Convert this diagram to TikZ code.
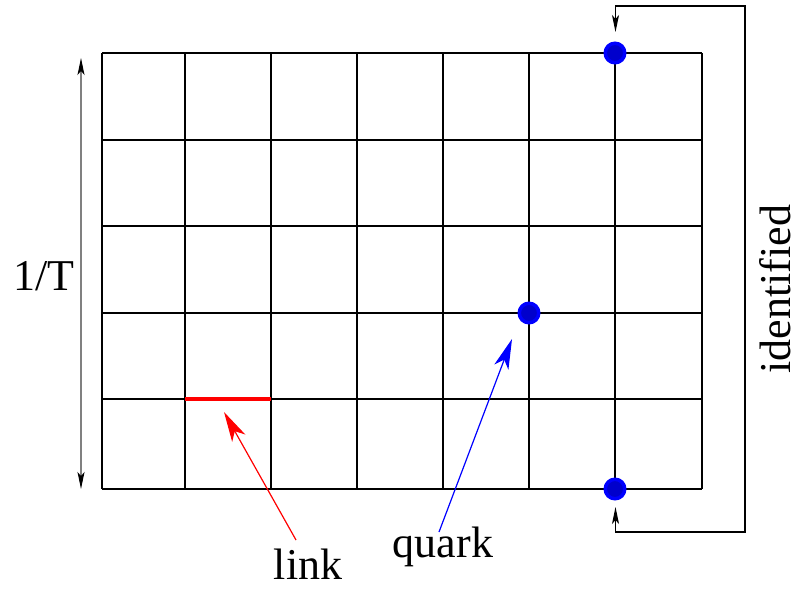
\documentclass[tikz,border=0pt]{standalone}
\usepackage{fontspec}
\setmainfont{Liberation Serif}
\usetikzlibrary{arrows.meta}
\begin{document}
\begin{tikzpicture}[x=1pt,y=-1pt,
  gridline/.style={line width=1.4pt,black},
  dot/.style={circle,inner sep=0pt,minimum size=19.5pt,fill=blue!80!black,draw=blue,line width=3.5pt},
  lbl/.style={font=\fontsize{44}{50}\selectfont,inner sep=0pt},
  bigtip/.style={-{Stealth[length=30pt,width=15pt,inset=8pt]}},
  smalltip/.style={{Stealth[length=17pt,width=7pt,inset=4pt,black]}-{Stealth[length=17pt,width=7pt,inset=4pt,black]}}]
\useasboundingbox (0,0) rectangle (799,588);
% grid
\foreach \x in {102,185,271,357,443,529,615,702}
  \draw[gridline] (\x,53) -- (\x,489);
\foreach \y in {53,140,226,313,399,489}
  \draw[gridline] (102,\y) -- (702,\y);
% link
\draw[red,line width=4pt] (185,399) -- (271,399);
% dots
\node[dot] (qtop) at (615,53) {};
\node[dot] (qmid) at (529,313) {};
\node[dot] (qbot) at (615,489) {};
% labels
\node[lbl,anchor=base,text depth=0pt] (link) at (308,579) {link};
\node[lbl,anchor=base] (quark) at (443,557) {quark};
\node[lbl,anchor=base] (temp) at (44,290) {1/T};
\node[lbl,anchor=base,text depth=0pt,rotate=90] (ident) at (790,289) {identified};
% label arrows
\coordinate (linktail) at (296,540);
\coordinate (linktip) at (224,412);
\coordinate (quarktail) at (439,532);
\coordinate (quarktip) at (512,339);
\draw[red,line width=1.2pt,bigtip] (linktail) -- (linktip);
\draw[blue,line width=1.2pt,bigtip] (quarktail) -- (quarktip);
% 1/T arrow
\coordinate (tup) at (81,58);
\coordinate (tdown) at (81,489);
\draw[gray,line width=1.3pt,smalltip] (tup) -- (tdown);
% identified bracket
\coordinate (ia) at (615.5,32);
\coordinate (ib) at (615.5,6);
\coordinate (ic) at (745,6);
\coordinate (id) at (745,532);
\coordinate (ie) at (615.5,532);
\coordinate (iff) at (615.5,507);
\draw[black,line width=1.1pt,smalltip] (ia) -- (ib) -- (ic) -- (id) -- (ie) -- (iff);
\end{tikzpicture}
\end{document}
